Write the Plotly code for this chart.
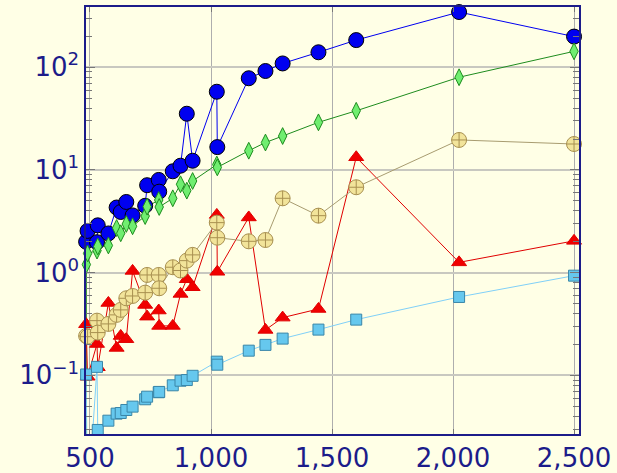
import plotly.graph_objects as go

# Problem sizes shared by every series (None = no run at that size)
sizes = [484, 485, 490, 529, 532, 576, 610, 627, 650, 676, 728, 736, 784, 786,
         842, 874, 900, 924, 1024, 1026, 1156, 1225, 1296, 1444, 1600, 2025, 2500]

# Timings per series (values below the plotted range fall off the bottom)
series_blue = [2.00, None, 2.55, 1.98, 2.89, 2.41, 4.31, 3.90, 4.88, 3.61, 4.48, 7.11, 8.0, 6.15,
               9.71, 11.0, 35.3, 12.3, 57.8, 16.7, 78.2, 92.0, 109, 140, 184, 345, 199]
series_green = [0.005, 1.20, 1.54, 1.64, 1.80, 1.84, 2.72, 2.42, 2.98, 2.83, 3.56, 4.39, 5.10, 4.36,
                5.30, 7.26, 6.29, 7.81, 11.3, 10.6, 15.4, 18.5, 21.4, 29.1, 37.7, 80.0, 143]
series_red = [0.315, None, 0.097, 0.202, 0.12, 0.507, 0.185, 0.242, 0.225, 1.04, 0.485, 0.373, 0.428, 0.303,
              0.303, 0.621, 0.863, 0.721, 3.65, 1.02, 3.45, 0.277, 0.365, 0.443, 13.3, 1.26, 2.04]
series_tan = [0.242, None, 0.238, 0.341, 0.261, 0.317, 0.388, 0.434, 0.563, 0.593, 0.639, 0.95, 0.95, 0.705,
              1.13, 1.05, 1.31, 1.49, 3.07, 2.19, 2.02, 2.08, 5.3, 3.59, 6.79, 19.6, 17.9]
series_sky = [0.102, None, 0.005, 0.121, 0.0294, 0.0362, 0.0424, 0.043, 0.046, 0.0496, 0.0585, 0.062, 0.0685,
              0.069, 0.080, 0.0887, 0.090, 0.099, 0.136, 0.127, 0.174, 0.198, 0.228, 0.279, 0.349, 0.58, 0.935]

y_tick_vals = [0.1, 1, 10, 100]
y_tick_text = ["10<sup>\u22121</sup>", "10<sup>0</sup>", "10<sup>1</sup>", "10<sup>2</sup>"]
x_tick_vals = [500, 1000, 1500, 2000, 2500]

Y_LOW, Y_HIGH = -1.571, 2.587
BG = "#FFFFE6"
NAVY = "#1c1c8a"

styles = [
    (series_blue, "#0000F0", dict(symbol="circle", size=15, color="#0000F0",
                                  line=dict(color="#000000", width=1))),
    (series_green, "#1E8C1E", dict(symbol="diamond-tall", size=12, color="#70EE70",
                                   line=dict(color="#1E8C1E", width=1))),
    (series_red, "#E00000", dict(symbol="triangle-up", size=13, color="#F00000",
                                 line=dict(color="#E00000", width=1))),
    (series_tan, "#A89C70", dict(symbol="circle-cross", size=15, color="#F2E49A",
                                 line=dict(color="#A89050", width=1))),
    (series_sky, "#80D0F8", dict(symbol="square", size=11, color="#66C8EE",
                                 line=dict(color="#3A86A8", width=1))),
]

fig = go.Figure()
for values, line_color, marker in styles:
    # connecting line over every available point
    fig.add_trace(go.Scatter(x=sizes, y=values, mode="lines", connectgaps=True,
                             line=dict(color=line_color, width=1), hoverinfo="skip"))
for values, line_color, marker in styles:
    # markers only where the value lies inside the visible range
    inside = [(s, v) for s, v in zip(sizes, values) if v is not None and v >= 10 ** Y_LOW]
    fig.add_trace(go.Scatter(x=[p[0] for p in inside], y=[p[1] for p in inside],
                             mode="markers", marker=marker, cliponaxis=False))

fig.update_layout(
    width=617, height=473,
    margin=dict(l=86, r=38, t=7, b=39),
    paper_bgcolor=BG, plot_bgcolor=BG,
    showlegend=False,
    font=dict(family="DejaVu Sans", size=26, color=NAVY),
)
fig.update_xaxes(
    range=[483.5, 2520.5], automargin=False,
    tickvals=x_tick_vals, tickformat=",d",
    showgrid=True, gridcolor="#AEAEAE", gridwidth=1.2,
    showline=True, linecolor=NAVY, linewidth=1.5, mirror="allticks",
    ticks="inside", ticklen=5, tickcolor="#777777",
    zeroline=False,
)
fig.update_yaxes(
    type="log", range=[Y_LOW, Y_HIGH], automargin=False,
    tickvals=y_tick_vals, ticktext=y_tick_text,
    showgrid=True, gridcolor="#C8C8C0", gridwidth=1.5,
    showline=True, linecolor=NAVY, linewidth=1.5, mirror="allticks",
    ticks="inside", ticklen=9, tickcolor="#777777",
    minor=dict(ticks="inside", ticklen=6, tickcolor="#777777", dtick="D1", showgrid=False),
    zeroline=False,
)

fig.write_html("out.html")
